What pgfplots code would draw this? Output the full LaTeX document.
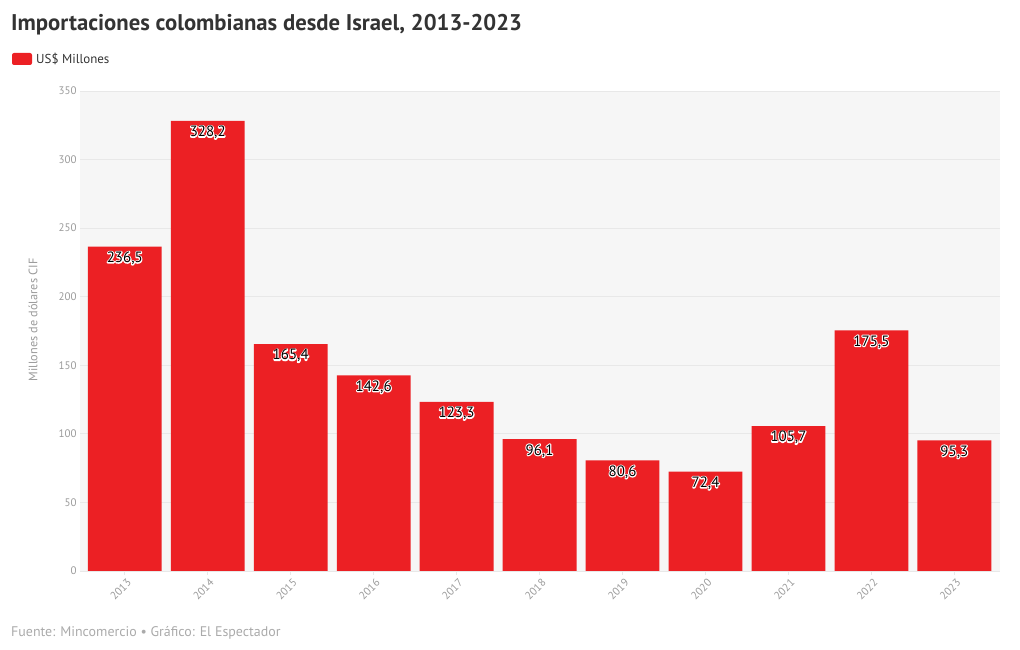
\documentclass[border=0pt]{standalone}
\usepackage{fontspec}
\setmainfont{PT Sans}
\usepackage{pgfplots}
\usepackage{pgfplotstable}
\pgfplotsset{compat=1.18}

\definecolor{barred}{HTML}{EC2024}
\definecolor{bg}{HTML}{F6F6F6}
\definecolor{gridc}{HTML}{E8E8E8}
\definecolor{tickc}{HTML}{9A9A9A}
\definecolor{titlec}{HTML}{333333}
\definecolor{footc}{HTML}{AAAAAA}

\newcommand\halo[1]{\rlap{\special{pdf:literal direct 1 Tr 2.2 w 1 j 1 1 1 RG}#1\special{pdf:literal direct 0 Tr 0 0 0 RG 1 w}}#1}

\pgfplotstableread{
x y label
0 236.5 236,5
1 328.2 328,2
2 165.4 165,4
3 142.6 142,6
4 123.3 123,3
5 96.1 96,1
6 80.6 80,6
7 72.4 72,4
8 105.7 105,7
9 175.5 175,5
10 95.3 95,3
}\datatable

\begin{document}
\begin{tikzpicture}[x=1bp,y=1bp]
\path[use as bounding box] (0,0) rectangle (1020,650);
\begin{axis}[
  at={(80bp,79bp)}, anchor=south west,
  width=920bp, height=480bp, scale only axis,
  xmin=-0.54, xmax=10.55, ymin=0, ymax=350,
  ybar, bar width=0.89,
  axis background/.style={fill=bg},
  axis line style={draw=none},
  ymajorgrids, grid style={draw=gridc, line width=0.8bp},
  ytick={0,50,...,350},
  xtick={0,...,10},
  xtick pos=bottom, ytick pos=left,
  xticklabels={2013,2014,2015,2016,2017,2018,2019,2020,2021,2022,2023},
  x tick style={draw=gridc, line width=0.8bp},
  y tick style={draw=none},
  xtick align=outside,
  major tick length=4bp,
  tick label style={font=\fontsize{11}{13}\selectfont, text=tickc},
  /pgf/number format/assume math mode=true,
  xticklabel style={rotate=45, anchor=north east, inner sep=1bp, yshift=-2bp},
  point meta=explicit symbolic,
  nodes near coords={\halo{\pgfplotspointmeta}},
  nodes near coords style={anchor=north, font=\fontsize{15}{17}\selectfont, text=black, inner sep=2bp, yshift=-3bp},
]
\addplot[fill=barred, draw=none] table[x=x, y=y, meta=label] {\datatable};
\end{axis}
\node[anchor=west, inner sep=0, text=titlec] at (11,625) {\fontsize{22.8}{27}\selectfont\bfseries Importaciones colombianas desde Israel, 2013-2023};
\fill[barred, rounded corners=2bp] (12,585) rectangle (32,597);
\node[anchor=west, inner sep=0, text=titlec] at (36,591) {\fontsize{13}{15}\selectfont US\$ Millones};
\node[rotate=90, inner sep=0, text=tickc] at (33,330) {\fontsize{12.3}{14}\selectfont Millones de dólares CIF};
\node[anchor=west, inner sep=0, text=footc] at (11,17) {\fontsize{14}{16}\selectfont Fuente: Mincomercio • Gráfico: El Espectador};
\end{tikzpicture}
\end{document}
